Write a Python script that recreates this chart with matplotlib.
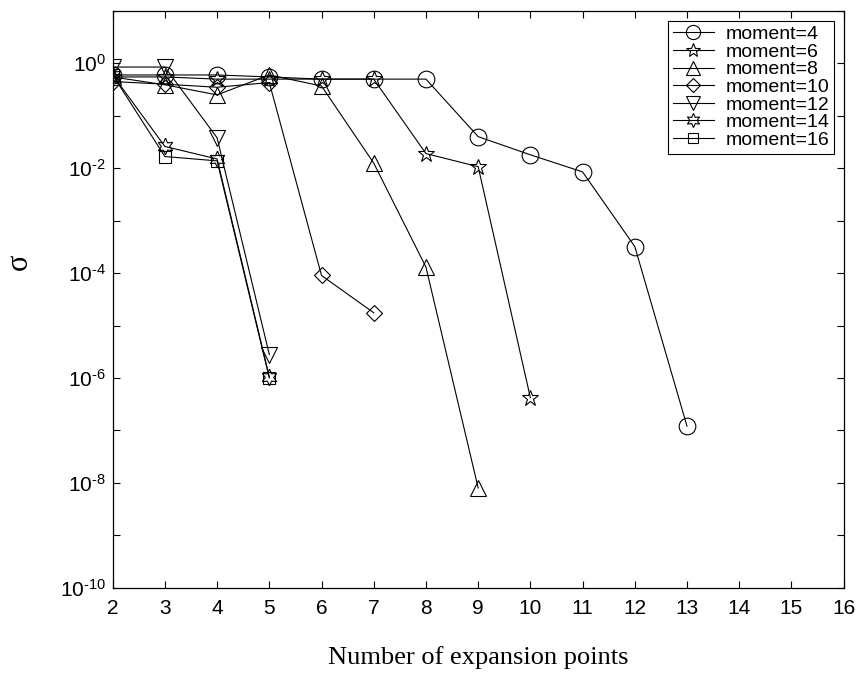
import matplotlib
matplotlib.use("Agg")
import matplotlib.pyplot as plt

plt.rcParams['font.family'] = ['Liberation Sans', 'DejaVu Sans']
plt.rcParams['mathtext.fontset'] = 'custom'
plt.rcParams['mathtext.rm'] = 'Liberation Sans'
plt.rcParams['mathtext.it'] = 'Liberation Sans:italic'

# sigma vs number of expansion points, one series per moment count
x_m4 = [2, 3, 4, 5, 6, 7, 8, 9, 10, 11, 12, 13]
y_m4 = [0.6, 0.6, 0.6, 0.55, 0.5, 0.5, 0.5, 0.04, 0.018, 0.0085, 3.2e-4, 1.2e-7]

x_m6 = [2, 3, 4, 5, 6, 7, 8, 9, 10]
y_m6 = [0.55, 0.55, 0.5, 0.5, 0.5, 0.5, 0.019, 0.0107, 4.2e-7]

x_m8 = [2, 3, 4, 5, 6, 7, 8, 9]
y_m8 = [0.55, 0.39, 0.25, 0.6, 0.37, 0.0125, 1.3e-4, 8e-9]

x_m10 = [2, 3, 4, 5, 6, 7]
y_m10 = [0.45, 0.4, 0.35, 0.43, 9e-5, 1.75e-5]

x_m12 = [2, 3, 4, 5]
y_m12 = [0.85, 0.85, 0.038, 2.8e-6]

x_m14 = [2, 3, 4, 5]
y_m14 = [0.6, 0.026, 0.015, 1.05e-6]

x_m16 = [2, 3, 4, 5]
y_m16 = [0.6, 0.0167, 0.0138, 1.0e-6]

series = [
    (x_m4, y_m4, 'o', 12, 'moment=4'),
    (x_m6, y_m6, '*', 12, 'moment=6'),
    (x_m8, y_m8, '^', 12, 'moment=8'),
    (x_m10, y_m10, 'D', 8.5, 'moment=10'),
    (x_m12, y_m12, 'v', 12, 'moment=12'),
    (x_m14, y_m14, (6, 1, 0), 12, 'moment=14'),
    (x_m16, y_m16, 's', 9, 'moment=16'),
]

fig = plt.figure(figsize=(8.6, 6.81), dpi=100)
ax = fig.add_axes([0.131, 0.137, 0.85, 0.847])

for xs, ys, mk, ms, lab in series:
    ax.plot(xs, ys, color='black', lw=0.8, marker=mk, ms=ms,
            mfc='none', mec='black', mew=0.8, label=lab)

ax.set_yscale('log')
ax.set_xlim(2, 16)
ax.set_ylim(1e-10, 1e1)
ax.set_xticks(range(2, 17))
ax.set_xticklabels([str(i) for i in range(2, 17)], fontsize=15)

decades = list(range(-10, 2))
ylabels = []
for d in decades:
    if d == 0:
        ylabels.append(r'$10^{0}$')
    elif d % 2 == 0 and d < 0:
        ylabels.append(r'$10^{\text{-}%d}$' % (-d))
    else:
        ylabels.append('')
ax.set_yticks([10.0 ** d for d in decades])
ax.set_yticklabels(ylabels, fontsize=15)
ax.minorticks_off()
ax.tick_params(direction='in', top=True, right=True, length=5, width=0.8)
ax.tick_params(axis='x', pad=8)
ax.tick_params(axis='y', pad=5)
for sp in ax.spines.values():
    sp.set_linewidth(0.9)

ax.set_xlabel('Number of expansion points', fontsize=19,
              family=['Liberation Serif', 'DejaVu Serif'], labelpad=20)
ax.set_ylabel('σ', fontsize=22, family=['Liberation Serif', 'DejaVu Serif'],
              rotation=90)
ax.yaxis.set_label_coords(-0.108, 0.565)

leg = ax.legend(loc='upper right', fontsize=14, frameon=True, fancybox=False,
                edgecolor='black', framealpha=1, handlelength=2.1,
                borderpad=0.25, labelspacing=0.0, borderaxespad=0.5,
                handletextpad=0.6, markerscale=0.85)
leg.get_frame().set_linewidth(0.8)

fig.savefig('out.png', dpi=100)
